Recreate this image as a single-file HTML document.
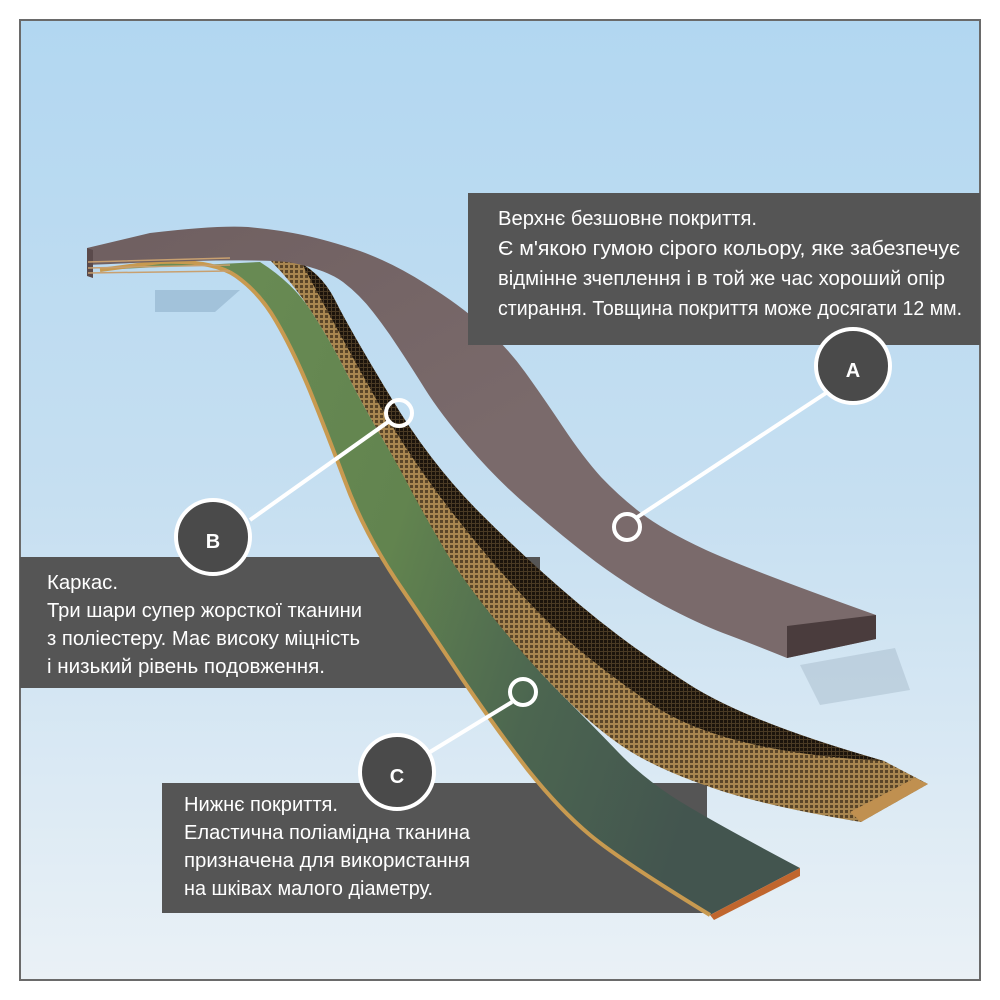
<!DOCTYPE html>
<html><head><meta charset="utf-8"><style>
html,body{margin:0;padding:0;background:#fff;}
svg{display:block}
text{font-family:"Liberation Sans",sans-serif;fill:#fff;font-size:20px;}
</style></head><body>
<svg width="1000" height="1000" viewBox="0 0 1000 1000" xmlns="http://www.w3.org/2000/svg">
<defs>
<linearGradient id="sky" x1="0" y1="0" x2="0" y2="1">
<stop offset="0" stop-color="#b2d7f1"/><stop offset="0.5" stop-color="#c6dff1"/><stop offset="1" stop-color="#eaf1f6"/>
</linearGradient>
<linearGradient id="brown" x1="0" y1="0" x2="1" y2="1">
<stop offset="0" stop-color="#6f5f60"/><stop offset="0.5" stop-color="#7a6a6b"/><stop offset="1" stop-color="#7a6a6b"/>
</linearGradient>
<linearGradient id="green" x1="0" y1="0" x2="1" y2="0.3">
<stop offset="0" stop-color="#6c8e56"/><stop offset="0.5" stop-color="#62844f"/><stop offset="0.75" stop-color="#4c6650"/><stop offset="1" stop-color="#43554f"/>
</linearGradient>
<pattern id="mesh" width="5" height="5" patternUnits="userSpaceOnUse">
<rect width="5" height="5" fill="#a88650"/><rect width="3" height="3" fill="#5a4528"/>
</pattern>
<pattern id="meshd" width="4" height="4" patternUnits="userSpaceOnUse">
<rect width="4" height="4" fill="#4a3a24"/><rect width="3" height="3" fill="#1c140c"/>
</pattern>
</defs>
<rect x="0" y="0" width="1000" height="1000" fill="#fff"/>
<rect x="20" y="20" width="960" height="960" fill="url(#sky)" stroke="#6a6a6a" stroke-width="2"/>
<!-- shadows -->
<path d="M155,290 L240,290 L215,312 L155,312 Z" fill="#8fb0cc" opacity="0.6"/>
<path d="M800,665 L895,648 L910,690 L820,705 Z" fill="#a8bccc" opacity="0.5"/>
<!-- boxes B, C -->
<rect x="20" y="557" width="520" height="131" fill="#555"/>
<rect x="162" y="783" width="545" height="130" fill="#555"/>
<!-- green layer -->
<path d="M100,270 L160,262 Q213,260 236,276 Q260,293 276,321 Q293,350 310,391 Q327,433 345,481 Q363,530 396,580 Q430,630 463,680 Q497,730 528,770 Q560,810 590,835 Q620,860 710,915 L800,868 Q700,815 670,795 Q640,775 618,752 Q597,730 563,696 Q530,663 496,621 Q463,580 430,521 Q397,463 378,431 Q360,400 345,370 Q330,340 311,311 Q293,283 260,262 Z" fill="url(#green)"/>
<path d="M100,270 L160,262 Q213,260 236,276 Q260,293 276,321 Q293,350 310,391 Q327,433 345,481 Q363,530 396,580 Q430,630 463,680 Q497,730 528,770 Q560,810 590,835 Q620,860 710,915" fill="none" stroke="#c89a50" stroke-width="4"/>
<path d="M710,915 L800,868 L800,876 L714,920 Z" fill="#c0662e"/>
<!-- fabric layer -->
<path d="M270,260 Q293,283 311,311 Q330,340 345,370 Q360,400 378,431 Q397,463 413,494 Q430,525 446,552 Q463,580 496,621 Q530,663 563,696 Q597,730 628,750 Q660,770 710,787 Q760,805 861,822 L928,784 L884,761 Q750,723 690,685 Q630,647 580,605 Q530,563 480,513 Q430,463 390,396 Q350,330 335,300 Q320,270 290,258 Z" fill="url(#mesh)"/>
<path d="M300,260 Q340,335 376,399 Q413,463 455,516 Q497,570 538,612 Q580,655 650,703 Q720,752 884,761 Q750,723 690,685 Q630,647 580,605 Q530,563 480,513 Q430,463 390,396 Q350,330 335,300 Q320,270 290,258 Z" fill="url(#meshd)"/>
<path d="M861,822 L928,784 L915,778 L850,812 Z" fill="#c09050"/>
<!-- brown top layer -->
<path d="M87,248 L150,233 Q217,225 248,227 Q280,230 303,235 Q327,240 360,251 Q393,263 426,284 Q460,305 483,326 Q507,347 525,372 Q543,397 563,427 Q583,457 601,477 Q620,497 641,513 Q663,530 706,550 Q750,570 876,615 L876,639 L787,658 Q750,643 723,633 Q697,623 663,605 Q630,587 596,562 Q563,537 530,508 Q497,480 468,446 Q440,413 425,389 Q410,365 398,347 Q387,330 373,312 Q360,295 343,282 Q327,270 293,263 Q260,257 87,265 Z" fill="url(#brown)"/>
<path d="M787,626 L876,615 L876,639 L787,658 Z" fill="#4a3c3d"/>
<path d="M87,248 L87,276 L93,278 L93,250 Z" fill="#5a4a4b"/>
<path d="M88,262 L230,258 M88,268 L230,265 M88,273 L230,271" stroke="#c8a070" stroke-width="1.5"/>
<!-- box A -->
<rect x="468" y="193" width="512" height="152" fill="#555"/>
<!-- texts -->
<text x="498" y="225" textLength="259" lengthAdjust="spacingAndGlyphs">Верхнє безшовне покриття.</text>
<text x="498" y="255" textLength="462" lengthAdjust="spacingAndGlyphs">Є м'якою гумою сірого кольору, яке забезпечує</text>
<text x="498" y="285" textLength="447" lengthAdjust="spacingAndGlyphs">відмінне зчеплення і в той же час хороший опір</text>
<text x="498" y="315" textLength="464" lengthAdjust="spacingAndGlyphs">стирання. Товщина покриття може досягати 12 мм.</text>
<text x="47" y="589" textLength="71" lengthAdjust="spacingAndGlyphs">Каркас.</text>
<text x="47" y="617" textLength="315" lengthAdjust="spacingAndGlyphs">Три шари супер жорсткої тканини</text>
<text x="47" y="645" textLength="313" lengthAdjust="spacingAndGlyphs">з поліестеру. Має високу міцність</text>
<text x="47" y="673" textLength="278" lengthAdjust="spacingAndGlyphs">і низький рівень подовження.</text>
<text x="184" y="811" textLength="154" lengthAdjust="spacingAndGlyphs">Нижнє покриття.</text>
<text x="184" y="839" textLength="286" lengthAdjust="spacingAndGlyphs">Еластична поліамідна тканина</text>
<text x="184" y="867" textLength="286" lengthAdjust="spacingAndGlyphs">призначена для використання</text>
<text x="184" y="895" textLength="249" lengthAdjust="spacingAndGlyphs">на шківах малого діаметру.</text>
<!-- connectors -->
<g stroke="#fff" stroke-width="4" fill="none">
<line x1="636" y1="518" x2="826" y2="393"/>
<line x1="388" y1="422" x2="250" y2="520"/>
<line x1="512" y1="702" x2="430" y2="752"/>
<circle cx="399" cy="413" r="13"/>
<circle cx="627" cy="527" r="13"/>
<circle cx="523" cy="692" r="13"/>
</g>
<g stroke="#fff" stroke-width="4" fill="#4a4a4a">
<circle cx="853" cy="366" r="37"/>
<circle cx="213" cy="537" r="37"/>
<circle cx="397" cy="772" r="37"/>
</g>
<g style="font-size:30px;font-weight:bold" text-anchor="middle">
<text x="853" y="377">A</text>
<text x="213" y="548">B</text>
<text x="397" y="783">C</text>
</g>
</svg>
</body></html>
